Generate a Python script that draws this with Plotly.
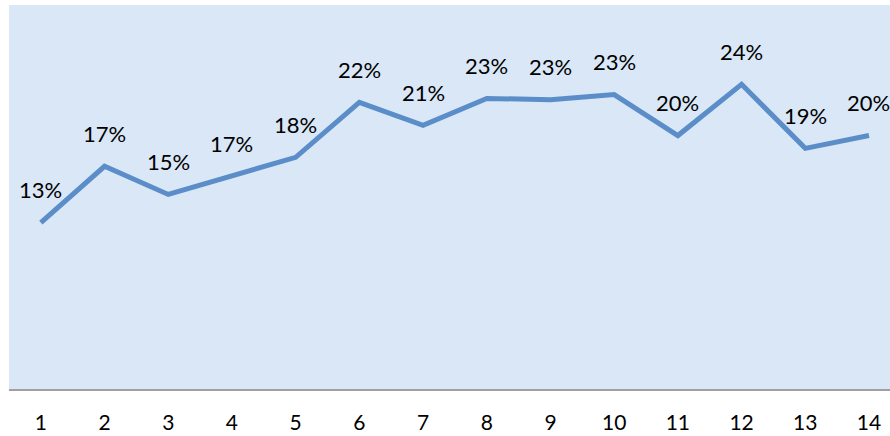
import plotly.graph_objects as go

categories = list(range(1, 15))
values = [0.130, 0.174, 0.152, 0.166, 0.181, 0.224, 0.206, 0.227, 0.226, 0.230, 0.198, 0.238, 0.188, 0.198]
labels = [f"{round(v * 100)}%" for v in values]

FONT = "Lato, Carlito, sans-serif"

fig = go.Figure()
fig.add_trace(go.Scatter(
    x=categories, y=values, mode="lines",
    line=dict(color="#5B8DC8", width=5),
    hoverinfo="skip", showlegend=False,
))

for x, y, t in zip(categories, values, labels):
    fig.add_annotation(x=x, y=y, text=t, showarrow=False, yshift=33,
                       font=dict(family=FONT, size=22, color="#000000"))

fig.update_layout(
    width=890, height=436,
    margin=dict(l=9, r=0, t=5, b=47),
    paper_bgcolor="#FFFFFF",
    plot_bgcolor="#D9E7F6",
    xaxis=dict(range=[0.5, 14.33], tickmode="array", tickvals=categories,
               ticktext=[str(c) for c in categories], automargin=False,
               showgrid=False, zeroline=False, showline=True,
               linecolor="#A0A0A0", linewidth=2,
               ticks="outside", ticklen=14, tickcolor="rgba(0,0,0,0)",
               tickfont=dict(family=FONT, size=21, color="#000000")),
    yaxis=dict(range=[0, 0.30], showgrid=False, zeroline=False, showticklabels=False,
               showline=False, automargin=False),
)

fig.write_html("out.html", config={"displayModeBar": False},
               post_script="document.body.style.margin='0';")
